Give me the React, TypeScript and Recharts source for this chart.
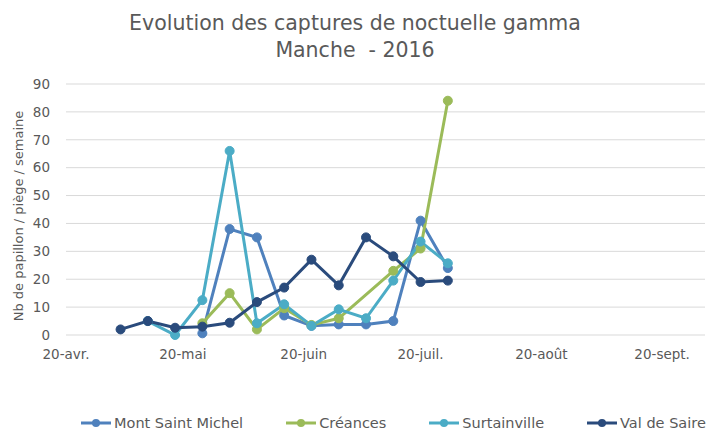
import { LineChart, Line, XAxis, YAxis, CartesianGrid } from "recharts"

const startDate = "2016-04-20"
const dates = [
  "2016-05-04", "2016-05-11", "2016-05-18", "2016-05-25", "2016-06-01", "2016-06-08", "2016-06-15",
  "2016-06-22", "2016-06-29", "2016-07-06", "2016-07-13", "2016-07-20", "2016-07-27",
]
const montSaintMichel = [null, null, null, 0.6, 38, 35, 7, 3.3, 3.8, 3.8, 5, 41, 24]
const creances = [null, null, null, 4.2, 15, 2, 9.6, 3.6, 6, null, 23, 31, 84]
const surtainville = [null, 5, 0, 12.5, 66, 4.2, 11, 3.3, 9.2, 6, 19.5, 33.5, 25.7]
const valDeSaire = [2, 5, 2.6, 3, 4.4, 11.8, 17, 27, 17.8, 35, 28.2, 19, 19.5]

const tickDates = ["2016-04-20", "2016-05-20", "2016-06-20", "2016-07-20", "2016-08-20", "2016-09-20"]
const tickLabels = ["20-avr.", "20-mai", "20-juin", "20-juil.", "20-août", "20-sept."]
const yTicks = [0, 10, 20, 30, 40, 50, 60, 70, 80, 90]

const series = [
  { key: "msm", name: "Mont Saint Michel", color: "#4F81BD", values: montSaintMichel },
  { key: "cre", name: "Créances", color: "#9BBB59", values: creances },
  { key: "sur", name: "Surtainville", color: "#4BACC6", values: surtainville },
  { key: "vds", name: "Val de Saire", color: "#2A4B7C", values: valDeSaire },
]

const DAY = 24 * 3600 * 1000
const dayOf = (d: string) => Math.round((Date.parse(d) - Date.parse(startDate)) / DAY)

const data = dates.map((d, i) => {
  const row: Record<string, number | null> = { day: dayOf(d) }
  series.forEach((s) => (row[s.key] = s.values[i]))
  return row
})

const ticks = tickDates.map(dayOf)
const font = "'DejaVu Sans', Verdana, sans-serif"
const textColor = "#595959"

export default function App() {
  return (
    <div style={{ position: "absolute", left: 0, top: 0, width: 710, height: 430, background: "#fff", fontFamily: font }}>
      <div style={{ position: "absolute", top: 10, left: 0, width: 710, textAlign: "center", color: textColor, fontSize: 20.5, lineHeight: "27px" }}>
        Evolution des captures de noctuelle gamma
        <br />
        Manche&nbsp;&nbsp;- 2016
      </div>
      <div
        style={{
          position: "absolute",
          left: 18,
          top: 216,
          transform: "translate(-50%, -50%) rotate(-90deg)",
          whiteSpace: "nowrap",
          fontSize: 13,
          color: textColor,
        }}
      >
        Nb de papillon / piège / semaine
      </div>
      <LineChart width={710} height={430} data={data} margin={{ top: 84, right: 5, left: 36, bottom: 65 }}>
        <CartesianGrid vertical={false} stroke="#d9d9d9" />
        <XAxis
          dataKey="day"
          type="number"
          domain={[0, 164]}
          ticks={ticks}
          tickFormatter={(v: number) => tickLabels[ticks.indexOf(v)]}
          axisLine={false}
          tickLine={false}
          height={30}
          tickMargin={8}
          tick={{ fill: textColor, fontSize: 13.5, fontFamily: font }}
          interval={0}
        />
        <YAxis
          domain={[0, 90]}
          ticks={yTicks}
          width={30}
          axisLine={false}
          tickLine={false}
          tickSize={0}
          tickMargin={16}
          tick={{ fill: textColor, fontSize: 13.5, fontFamily: font }}
          interval={0}
        />
        {series.map((s) => (
          <Line
            key={s.key}
            dataKey={s.key}
            name={s.name}
            stroke={s.color}
            strokeWidth={3}
            dot={{ r: 4.5, fill: s.color, stroke: s.color, strokeWidth: 1 }}
            connectNulls
            isAnimationActive={false}
          />
        ))}
      </LineChart>
      <div style={{ position: "absolute", left: 80, top: 415, display: "flex", alignItems: "center", fontSize: 14.5, color: textColor }}>
        {series.map((s, i) => (
          <div key={s.key} style={{ display: "flex", alignItems: "center", marginRight: i < series.length - 1 ? 42 : 0 }}>
            <svg width={32} height={16}>
              <line x1={1} y1={8} x2={31} y2={8} stroke={s.color} strokeWidth={3} />
              <circle cx={16} cy={8} r={4} fill={s.color} />
            </svg>
            <span style={{ marginLeft: 2 }}>{s.name}</span>
          </div>
        ))}
      </div>
    </div>
  )
}
